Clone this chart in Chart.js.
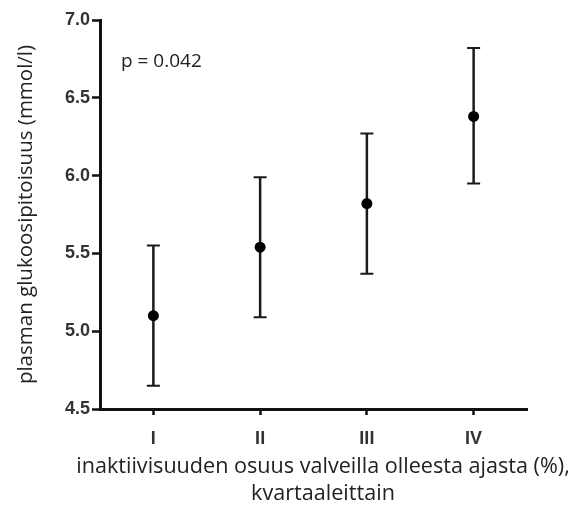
<!DOCTYPE html>
<html>
<head>
<meta charset="utf-8">
<script src="https://cdn.jsdelivr.net/npm/chart.js@4.4.1/dist/chart.umd.min.js"></script>
<style>
  html, body { margin: 0; padding: 0; background: #ffffff; }
  #wrap { width: 579px; height: 507px; position: relative; }
</style>
</head>
<body>
<div id="wrap"><canvas id="c" width="579" height="507"></canvas></div>
<script>
// ---- data ----
const categories = ["I", "II", "III", "IV"];
const means = [5.10, 5.54, 5.82, 6.38];
const upper = [5.55, 5.99, 6.27, 6.82];
const lower = [4.65, 5.09, 5.37, 5.95];
const yTicks = [4.5, 5.0, 5.5, 6.0, 6.5, 7.0];
const yTitle = "plasman glukoosipitoisuus (mmol/l)";
const xTitleLines = ["inaktiivisuuden osuus valveilla olleesta ajasta (%),", "kvartaaleittain"];
const pText = "p = 0.042";

const errorBars = {
  id: 'errorBars',
  beforeDatasetsDraw(chart) {
    const ctx = chart.ctx;
    const xs = chart.scales.x, ys = chart.scales.y;
    ctx.save();
    ctx.strokeStyle = '#1a1a1a';
    ctx.lineCap = 'butt';
    categories.forEach((c, i) => {
      const x = xs.getPixelForValue(i);
      const yt = ys.getPixelForValue(upper[i]);
      const yb = ys.getPixelForValue(lower[i]);
      ctx.lineWidth = 2.5;
      ctx.beginPath();
      ctx.moveTo(x, yt); ctx.lineTo(x, yb);
      ctx.stroke();
      ctx.lineWidth = 2;
      ctx.beginPath();
      ctx.moveTo(x - 6.5, yt); ctx.lineTo(x + 6.5, yt);
      ctx.moveTo(x - 6.5, yb); ctx.lineTo(x + 6.5, yb);
      ctx.stroke();
    });
    ctx.restore();
  }
};

const annotations = {
  id: 'annotations',
  afterDraw(chart) {
    const ctx = chart.ctx;
    ctx.save();
    ctx.fillStyle = '#222';
    ctx.textBaseline = 'middle';
    ctx.textAlign = 'left';
    ctx.font = '19px "Open Sans", sans-serif';
    ctx.fillText(pText, 121, 62);
    ctx.textAlign = 'center';
    ctx.font = '21.6px "Open Sans", sans-serif';
    ctx.fillText(xTitleLines[0], 323, 467);
    ctx.fillText(xTitleLines[1], 323, 494);
    ctx.restore();
  }
};

new Chart(document.getElementById('c'), {
  type: 'line',
  data: {
    labels: categories,
    datasets: [{
      data: means,
      showLine: false,
      pointRadius: 5.5,
      pointHoverRadius: 5.5,
      pointBackgroundColor: '#000',
      pointBorderColor: '#000',
      pointBorderWidth: 0
    }]
  },
  options: {
    responsive: false,
    animation: false,
    events: [],
    layout: { padding: { top: 20, right: 52, bottom: 0, left: 0 } },
    plugins: { legend: { display: false }, tooltip: { enabled: false } },
    scales: {
      x: {
        type: 'category',
        offset: true,
        afterFit(scale) { scale.height = 98; },
        grid: { drawOnChartArea: false, offset: false, drawTicks: true, tickLength: 6, tickWidth: 2.5, tickColor: '#111' },
        border: { display: true, width: 3, color: '#111' },
        ticks: { color: '#333', padding: 13, font: { family: '"Liberation Sans", Arial, sans-serif', size: 18, weight: 'bold' } }
      },
      y: {
        min: 4.5, max: 7.0,
        afterFit(scale) { scale.width = 100; },
        afterBuildTicks(scale) { scale.ticks = yTicks.map(v => ({ value: v })); },
        grid: { drawOnChartArea: false, drawTicks: true, tickLength: 8, tickWidth: 2.5, tickColor: '#111' },
        border: { display: true, width: 3, color: '#111' },
        ticks: {
          color: '#333', padding: 2,
          font: { family: '"Liberation Sans", Arial, sans-serif', size: 18, weight: 'bold' },
          callback: (v) => Number(v).toFixed(1)
        },
        title: {
          display: true, text: yTitle, color: '#222',
          font: { family: '"Open Sans", sans-serif', size: 20.5 },
          padding: { top: 14, bottom: 0 }
        }
      }
    }
  },
  plugins: [errorBars, annotations]
});
</script>
</body>
</html>
